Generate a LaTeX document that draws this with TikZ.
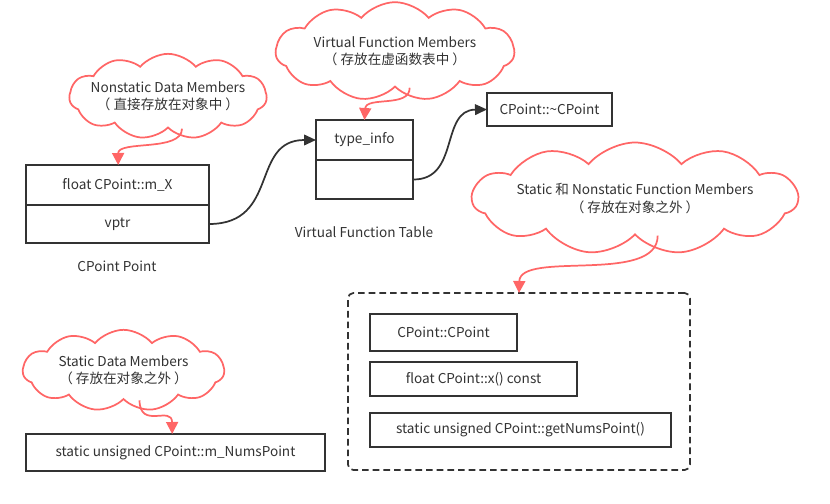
\documentclass[tikz,border=0pt]{standalone}
\usepackage{fontspec}
\setmainfont{Noto Sans CJK SC}
\usetikzlibrary{shapes.symbols,arrows.meta}
\definecolor{noteRed}{RGB}{255,102,102}
\definecolor{lineGray}{RGB}{51,51,51}

\begin{document}
\begin{tikzpicture}[
  x=0.75pt, y=-0.75pt,
  every node/.style={font=\fontsize{10.2}{12.8}\selectfont, text=lineGray},
  membox/.style={draw=lineGray, line width=1.3pt, fill=white, inner sep=0pt,
                 outer sep=0pt, align=center},
  note/.style={cloud, cloud puffs=11, cloud puff arc=100, cloud ignores aspect,
               draw=noteRed, line width=1.3pt, fill=white, align=center,
               inner xsep=-20pt, inner ysep=-2pt},
  redarr/.style={-{Triangle[length=9pt, width=9pt, fill=noteRed]},
                 draw=noteRed, line width=1.3pt},
  blkarr/.style={-{Triangle[length=9pt, width=8pt, fill=lineGray]},
                 draw=lineGray, line width=1.3pt}
]
  \useasboundingbox (0,0) rectangle (830,503);

  % the object
  \node[membox, minimum width=137.25pt, minimum height=30pt] (mx) at (117.5,185)
    {float CPoint::m\_X};
  \node[membox, minimum width=137.25pt, minimum height=28.5pt, anchor=north]
    (vptr) at (mx.south) {vptr};
  \node (ptname) at (117,266) {CPoint Point};

  % the virtual table
  \node[membox, minimum width=72.75pt, minimum height=30pt] (vinfo) at (364.5,140)
    {type\_info};
  \node[membox, minimum width=72.75pt, minimum height=29.25pt, anchor=north]
    (vslot) at (vinfo.south) {};
  \node (vtname) at (364,232) {Virtual Function Table};
  \node[membox, minimum width=93.75pt, minimum height=24.75pt] (dtor) at (549.5,109.5)
    {CPoint::\textasciitilde CPoint};

  % functions outside the object
  \node[draw=lineGray, line width=1.3pt, dash pattern=on 5pt off 3pt,
        rounded corners=4pt, outer sep=0pt, minimum width=256.5pt,
        minimum height=132.75pt] (grp) at (519,381.5) {};
  \node[membox, minimum width=110.25pt, minimum height=27.75pt] (ctor) at (443.5,332.5)
    {CPoint::CPoint};
  \node[membox, minimum width=155.25pt, minimum height=25.5pt] (getx) at (473.5,379)
    {float CPoint::x() const};
  \node[membox, minimum width=225.75pt, minimum height=25.5pt] (getnum) at (520.5,430)
    {static unsigned CPoint::getNumsPoint()};
  \node[membox, minimum width=224.25pt, minimum height=27.75pt] (nums) at (175.5,452.5)
    {static unsigned CPoint::m\_NumsPoint};

  % notes
  \node[note, minimum width=148pt, minimum height=64pt] (nsdata) at (168,96.5)
    {Nonstatic Data Members\\（ 直接存放在对象中 ）};
  \node[note, minimum width=179pt, minimum height=74pt] (vfunc) at (395,51.5)
    {Virtual Function Members\\（ 存放在虚函数表中 ）};
  \node[note, minimum width=244pt, minimum height=84pt] (sfunc) at (635,198.5)
    {Static 和 Nonstatic Function Members\\（ 存放在对象之外 ）};
  \node[note, minimum width=151pt, minimum height=61pt] (sdata) at (123.5,370.5)
    {Static Data Members\\（ 存放在对象之外 ）};

  \draw[redarr] ([xshift=10.5pt]nsdata.south) .. controls (182,152) and (118,140) .. ([xshift=0.5pt]mx.north);
  \draw[redarr] ([xshift=11pt]vfunc.south) .. controls (410,108) and (366,96) .. (vinfo.north);
  \draw[redarr] ([xshift=17pt]sfunc.south) .. controls (658,285) and (520,250) .. (grp.north);
  \draw[redarr] ([xshift=12pt]sdata.south) .. controls (140,430) and (172,405) .. ([xshift=-2.5pt]nums.north);

  \draw[blkarr] (vptr.east) .. controls (280,224) and (250,140) .. (vinfo.west);
  \draw[blkarr] (vslot.east) .. controls (460,180) and (440,110) .. (dtor.west);
\end{tikzpicture}
\end{document}
